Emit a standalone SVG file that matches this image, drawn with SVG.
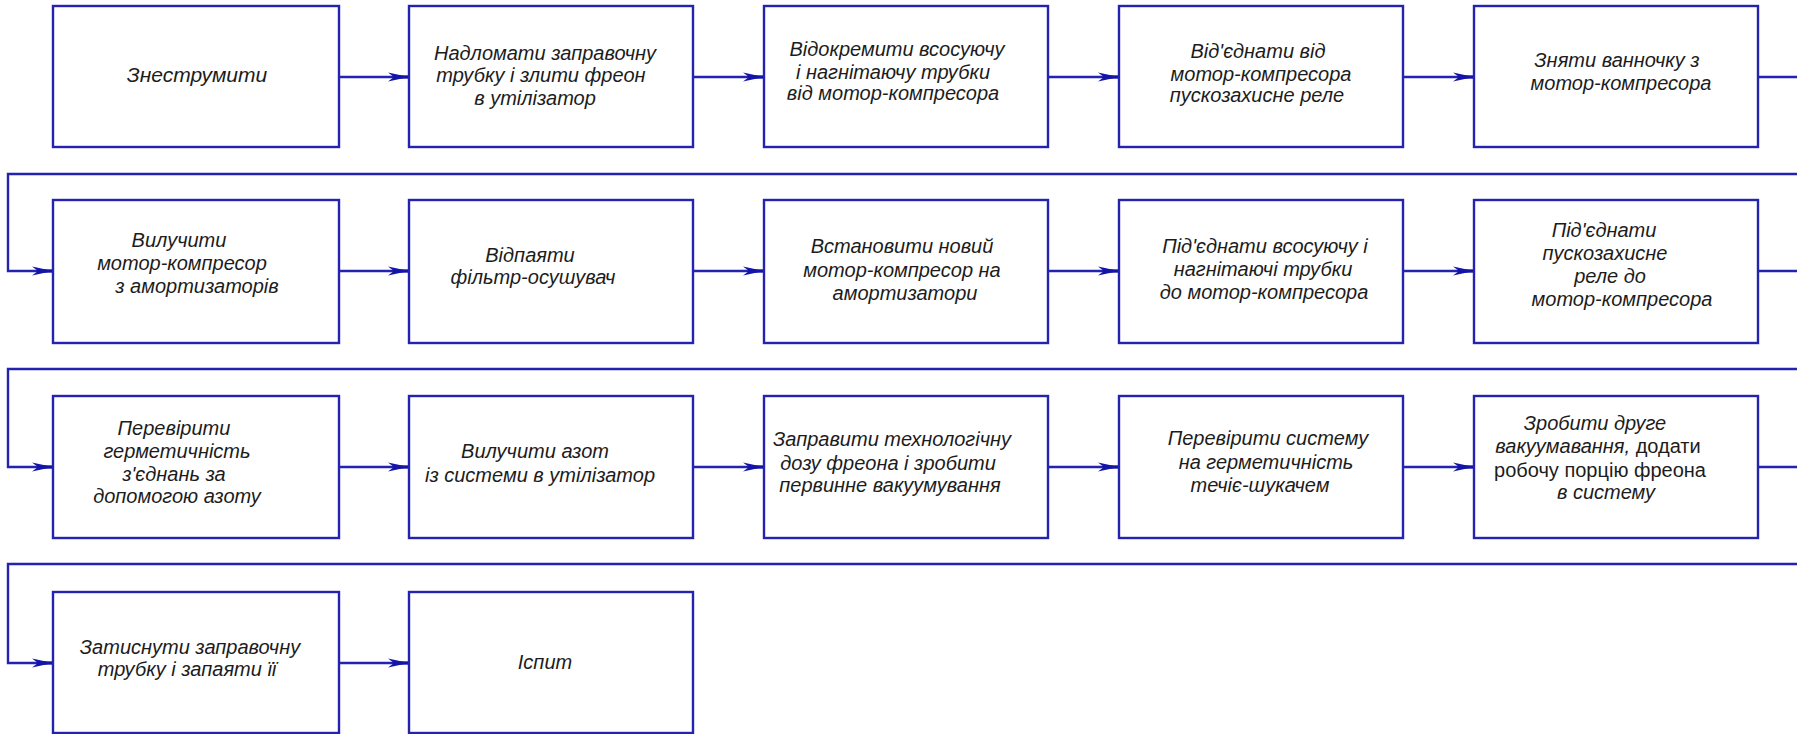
<svg xmlns="http://www.w3.org/2000/svg" width="1797" height="734" viewBox="0 0 1797 734">
<style>
.box{fill:#ffffff;stroke:#2323b0;stroke-width:2.4}
.con{fill:none;stroke:#2323b0;stroke-width:2.4}
text{font-family:"Liberation Sans",Arial,sans-serif;font-size:20px;font-style:italic;fill:#1c1c1c;text-anchor:middle}
.up{font-style:normal}
</style>
<defs>
<marker id="ah" viewBox="-22 -6 23 12" refX="0" refY="0" markerWidth="23" markerHeight="12" markerUnits="userSpaceOnUse" orient="auto">
<path d="M0,0 L-21,-4.5 L-15,0 L-21,4.5 Z" fill="#1414a8"/>
<path d="M0,-1.6 L-16,-1.6 L-16,1.6 L0,1.6 Z" fill="#1414a8"/>
</marker>
</defs>
<rect width="1797" height="734" fill="#ffffff"/>
<g id="connectors">
<path class="con" d="M339,77 H409" marker-end="url(#ah)"/>
<path class="con" d="M693,77 H764" marker-end="url(#ah)"/>
<path class="con" d="M1048,77 H1119" marker-end="url(#ah)"/>
<path class="con" d="M1403,77 H1474" marker-end="url(#ah)"/>
<path class="con" d="M1758,77 H1800 V174 H8 V271 H53" marker-end="url(#ah)"/>
<path class="con" d="M339,271 H409" marker-end="url(#ah)"/>
<path class="con" d="M693,271 H764" marker-end="url(#ah)"/>
<path class="con" d="M1048,271 H1119" marker-end="url(#ah)"/>
<path class="con" d="M1403,271 H1474" marker-end="url(#ah)"/>
<path class="con" d="M1758,271 H1800 V369 H8 V467 H53" marker-end="url(#ah)"/>
<path class="con" d="M339,467 H409" marker-end="url(#ah)"/>
<path class="con" d="M693,467 H764" marker-end="url(#ah)"/>
<path class="con" d="M1048,467 H1119" marker-end="url(#ah)"/>
<path class="con" d="M1403,467 H1474" marker-end="url(#ah)"/>
<path class="con" d="M1758,467 H1800 V564 H8 V663 H53" marker-end="url(#ah)"/>
<path class="con" d="M339,663 H409" marker-end="url(#ah)"/>
</g>
<g id="n1"><rect class="box" x="53" y="6" width="286" height="141"/>
<text x="197" y="82" style="font-size:21px">Знеструмити</text></g>
<g id="n2"><rect class="box" x="409" y="6" width="284" height="141"/>
<text x="545" y="60">Надломати заправочну</text><text x="541" y="82">трубку і злити фреон</text><text x="535" y="105">в утілізатор</text></g>
<g id="n3"><rect class="box" x="764" y="6" width="284" height="141"/>
<text x="897" y="56">Відокремити всосуючу</text><text x="893" y="79">і нагнітаючу трубки</text><text x="893" y="100">від мотор-компресора</text></g>
<g id="n4"><rect class="box" x="1119" y="6" width="284" height="141"/>
<text x="1258" y="58">Від'єднати від</text><text x="1261" y="81">мотор-компресора</text><text x="1257" y="102">пускозахисне реле</text></g>
<g id="n5"><rect class="box" x="1474" y="6" width="284" height="141"/>
<text x="1617" y="67">Зняти ванночку з</text><text x="1621" y="90">мотор-компресора</text></g>

<g id="n6"><rect class="box" x="53" y="200" width="286" height="143"/>
<text x="179" y="247">Вилучити</text><text x="182" y="270">мотор-компресор</text><text x="197" y="293">з амортизаторів</text></g>
<g id="n7"><rect class="box" x="409" y="200" width="284" height="143"/>
<text x="530" y="262">Відпаяти</text><text x="533" y="284">фільтр-осушувач</text></g>
<g id="n8"><rect class="box" x="764" y="200" width="284" height="143"/>
<text x="902" y="253">Встановити новий</text><text x="902" y="277">мотор-компресор на</text><text x="905" y="300">амортизатори</text></g>
<g id="n9"><rect class="box" x="1119" y="200" width="284" height="143"/>
<text x="1265" y="253">Під'єднати всосуючу і</text><text x="1263" y="276">нагнітаючі трубки</text><text x="1264" y="299">до мотор-компресора</text></g>
<g id="n10"><rect class="box" x="1474" y="200" width="284" height="143"/>
<text x="1604" y="237">Під'єднати</text><text x="1605" y="260">пускозахисне</text><text x="1610" y="283">реле до</text><text x="1622" y="306">мотор-компресора</text></g>

<g id="n11"><rect class="box" x="53" y="396" width="286" height="142"/>
<text x="174" y="435">Перевірити</text><text x="177" y="458">герметичність</text><text x="174" y="481">з'єднань за</text><text x="177" y="503">допомогою азоту</text></g>
<g id="n12"><rect class="box" x="409" y="396" width="284" height="142"/>
<text x="535" y="458">Вилучити азот</text><text x="540" y="482">із системи в утілізатор</text></g>
<g id="n13"><rect class="box" x="764" y="396" width="284" height="142"/>
<text x="892" y="446">Заправити технологічну</text><text x="888" y="470">дозу фреона і зробити</text><text x="890" y="492">первинне вакуумування</text></g>
<g id="n14"><rect class="box" x="1119" y="396" width="284" height="142"/>
<text x="1268" y="445">Перевірити систему</text><text x="1266" y="469">на герметичність</text><text x="1260" y="492">течіє-шукачем</text></g>
<g id="n15"><rect class="box" x="1474" y="396" width="284" height="142"/>
<text x="1595" y="430">Зробити друге</text><text x="1598" y="453">вакуумавання, <tspan class="up">додати</tspan></text><text class="up" x="1600" y="477">робочу порцію фреона</text><text x="1606" y="499">в систему</text></g>

<g id="n16"><rect class="box" x="53" y="592" width="286" height="141"/>
<text x="190" y="654">Затиснути заправочну</text><text x="187" y="676">трубку і запаяти її</text></g>
<g id="n17"><rect class="box" x="409" y="592" width="284" height="141"/>
<text x="545" y="669">Іспит</text></g>
</svg>
